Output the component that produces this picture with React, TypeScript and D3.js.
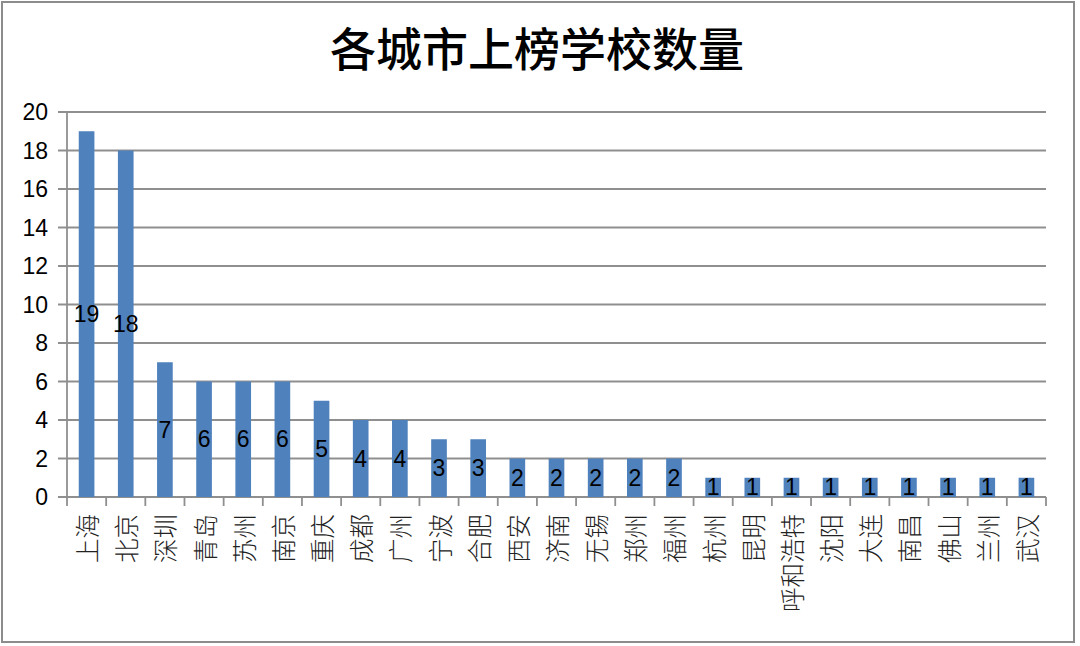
import React, { useEffect } from "react";
import * as d3 from "d3";

const cities = ["上海","北京","深圳","青岛","苏州","南京","重庆","成都","广州","宁波","合肥","西安","济南","无锡","郑州","福州","杭州","昆明","呼和浩特","沈阳","大连","南昌","佛山","兰州","武汉"];
const counts = [19,18,7,6,6,6,5,4,4,3,3,2,2,2,2,2,1,1,1,1,1,1,1,1,1];
const yTicks = [0,2,4,6,8,10,12,14,16,18,20];
const title = "各城市上榜学校数量";

const W = 1080, H = 646;
const left = 67, right = 1046, top = 112, bottom = 497;

export default function App() {
  useEffect(() => { document.body.style.margin = "0"; }, []);
  const x = d3.scaleBand<string>().domain(cities).range([left, right]).paddingInner(0.6).paddingOuter(0.3);
  const xb = d3.scaleBand<string>().domain(cities).range([left, right]);
  const y = d3.scaleLinear().domain([0, 20]).range([bottom, top]);
  const sans = "'Liberation Sans', Arial, sans-serif";
  const cjk = "'Noto Sans CJK SC', sans-serif";
  return (
    <svg width={W} height={H} style={{ display: "block", background: "#fff" }}>
      <rect x={2} y={2} width={1072} height={640} fill="#fff" stroke="#8c8c8c" strokeWidth={2} />
      <text x={537} y={66} textAnchor="middle" fontFamily={cjk} fontWeight={500} fontSize={46} fill="#000">{title}</text>
      {yTicks.map(t => (
        <g key={t}>
          <line x1={58} x2={right} y1={y(t)} y2={y(t)} stroke="#8f8f8f" strokeWidth={1.8} />
          <text x={48} y={y(t) + 8} textAnchor="end" fontFamily={sans} fontSize={23} fill="#000">{t}</text>
        </g>
      ))}
      <line x1={left} x2={left} y1={top} y2={bottom + 9} stroke="#8f8f8f" strokeWidth={1.8} />
      {cities.map((c) => (
        <line key={"t" + c} x1={xb(c)! + xb.bandwidth()} x2={xb(c)! + xb.bandwidth()} y1={bottom} y2={bottom + 9} stroke="#8f8f8f" strokeWidth={1.8} />
      ))}
      {cities.map((c, i) => (
        <rect key={"b" + c} x={x(c)} y={y(counts[i])} width={x.bandwidth()} height={bottom - y(counts[i])} fill="#4f81bd" />
      ))}
      {cities.map((c, i) => (
        <text key={"l" + c} x={x(c)! + x.bandwidth() / 2} y={(y(counts[i]) + bottom) / 2 + 8} textAnchor="middle" fontFamily={sans} fontSize={23} fill="#000">{counts[i]}</text>
      ))}
      {cities.map((c) => {
        const cx = xb(c)! + xb.bandwidth() / 2;
        return (
          <text key={"x" + c} transform={`translate(${cx},514) rotate(-90)`} textAnchor="end" dominantBaseline="central" fontFamily={cjk} fontWeight={300} fontSize={24.5} fill="#222">{c}</text>
        );
      })}
    </svg>
  );
}
